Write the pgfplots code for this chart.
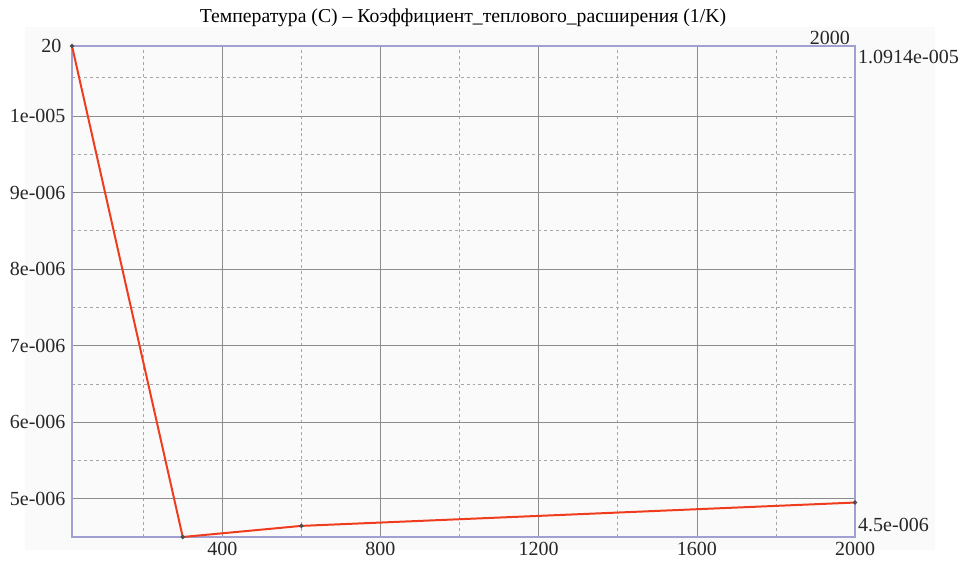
\documentclass[border=0pt]{standalone}
\usepackage{fontspec}
\setmainfont{Liberation Serif}
\usepackage{pgfplots}
\pgfplotsset{compat=1.18}
\definecolor{axcol}{RGB}{160,160,210}
\definecolor{linecol}{RGB}{240,60,30}
\begin{document}
\begin{tikzpicture}[x=1bp,y=1bp]
\useasboundingbox (0,0) rectangle (959,563);
\fill[black!2] (25,13) rectangle (935,536);
\node[font=\fontsize{19.7bp}{21bp}\selectfont] at (463,545) {Температура (С) – Коэффициент\_теплового\_расширения (1/K)};
\begin{axis}[
  at={(72bp,26bp)}, anchor=south west,
  scale only axis, width=783bp, height=491bp,
  xmin=20, xmax=2000, ymin=4.5e-6, ymax=1.0914e-5,
  axis line style={color=axcol, line width=1.2pt},
  grid=both,
  major grid style={color=black!45, line width=0.6pt},
  minor grid style={color=black!35, dashed, line width=0.6pt},
  xtick={400,800,1200,1600,2000},
  xticklabels={400,800,1200,1600,2000},
  minor xtick={200,600,1000,1400,1800},
  ytick={5e-6,6e-6,7e-6,8e-6,9e-6,1e-5},
  yticklabels={5e-006,6e-006,7e-006,8e-006,9e-006,1e-005},
  minor ytick={5.5e-6,6.5e-6,7.5e-6,8.5e-6,9.5e-6,1.05e-5},
  major tick length=0pt, minor tick length=0pt,
  scaled y ticks=false,
  tick label style={font=\fontsize{20bp}{21bp}\selectfont, text=black!85},
  xticklabel style={yshift=-2bp},
  yticklabel style={xshift=-3bp},
  clip=false,
]
\addplot[color=linecol, line width=2pt, mark=*, mark size=1pt, mark options={fill=black!70, draw=black!70}]
  coordinates {(20,1.0914e-5) (300,4.5e-6) (600,4.645e-6) (2000,4.95e-6)};
\node[anchor=east, font=\fontsize{20bp}{21bp}\selectfont, text=black!85, xshift=-7bp] at (rel axis cs:0,1) {20};
\node[anchor=south east, font=\fontsize{20bp}{21bp}\selectfont, text=black!85, xshift=-4bp, yshift=0bp, inner sep=1bp] at (rel axis cs:1,1) {2000};
\node[anchor=north west, font=\fontsize{20bp}{21bp}\selectfont, text=black!85, xshift=2bp, yshift=-3bp, inner sep=1bp] at (rel axis cs:1,1) {1.0914e-005};
\node[anchor=south west, font=\fontsize{20bp}{21bp}\selectfont, text=black!85, xshift=2bp, yshift=4bp, inner sep=1bp] at (rel axis cs:1,0) {4.5e-006};
\end{axis}
\end{tikzpicture}
\end{document}
